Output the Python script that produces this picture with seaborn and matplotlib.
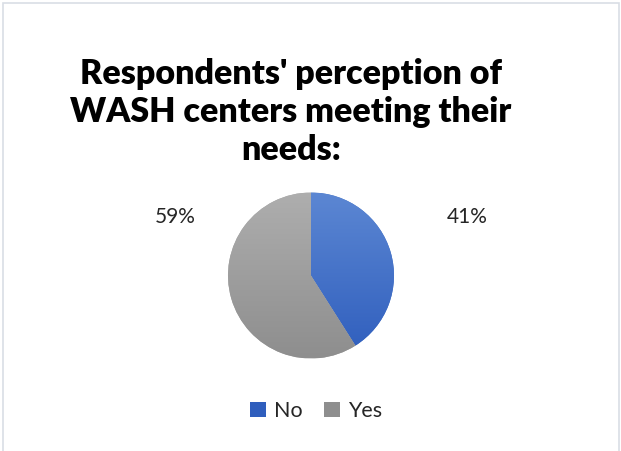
import numpy as np
import matplotlib
matplotlib.use("Agg")
import matplotlib.pyplot as plt
import matplotlib.patches as mpatches
from matplotlib.colors import LinearSegmentedColormap
import seaborn as sns

# Survey answers
categories = ["No", "Yes"]
shares = [41, 59]
title = "Respondents' perception of\nWASH centers meeting their\nneeds:"

sns.set_theme(style="white")
plt.rcParams["font.family"] = ["Lato", "DejaVu Sans"]

W, H = 621, 451
fig = plt.figure(figsize=(W / 100, H / 100), dpi=100)
fig.patch.set_facecolor("white")

# thin chart-area frame
frame = mpatches.Rectangle((3 / W, -0.02), 616 / W, 1 - 3 / H + 0.02,
                           transform=fig.transFigure, fill=False,
                           edgecolor="#D9DEE5", linewidth=1.2)
fig.patches.append(frame)

# pie axes: centre and radius in pixels
cx, cy, r = 311, 275.5, 83
ax = fig.add_axes([(cx - r) / W, 1 - (cy + r) / H, 2 * r / W, 2 * r / H])

base = sns.color_palette(["#4472C4", "#A5A5A5"])
grad = {
    "No": ("#5C87D3", "#2F5EBD"),
    "Yes": ("#AEAEAE", "#8E8E8E"),
}

wedges, _ = ax.pie(shares, colors=base, startangle=90, counterclock=False,
                   radius=1, wedgeprops=dict(linewidth=0))

# vertical light-to-dark shading clipped to each slice
for w, cat in zip(wedges, categories):
    top, bot = grad[cat]
    cmap = LinearSegmentedColormap.from_list(cat, [bot, top])
    g = np.linspace(0, 1, 256).reshape(-1, 1)
    im = ax.imshow(g, cmap=cmap, extent=[-1, 1, -1, 1], origin="lower",
                   aspect="auto", zorder=w.get_zorder() + 0.1)
    im.set_clip_path(w)
ax.set_xlim(-1, 1)
ax.set_ylim(-1, 1)
ax.set_aspect("equal")
ax.axis("off")

# percentage labels
label_pos = {"No": (467, 217), "Yes": (175, 217)}
for cat, val in zip(categories, shares):
    px, py = label_pos[cat]
    ax.text((px - cx) / r, (cy - py) / r, f"{val}%", ha="center", va="center",
            fontsize=15, color="#262626", clip_on=False)

fig.text(291 / W, 1 - 112 / H, title, ha="center", va="center",
         fontsize=24.5, fontweight="heavy", color="black", linespacing=1.24)

handles = [mpatches.Patch(facecolor=grad[c][1], edgecolor="none") for c in categories]
fig.legend(handles, categories, loc="center", bbox_to_anchor=(316 / W, 1 - 411 / H),
           ncol=2, frameon=False, fontsize=15.5, handlelength=0.75, handleheight=0.75,
           handletextpad=0.35, columnspacing=1.0, labelcolor="#262626")

fig.savefig("out.png", dpi=100, facecolor="white")
